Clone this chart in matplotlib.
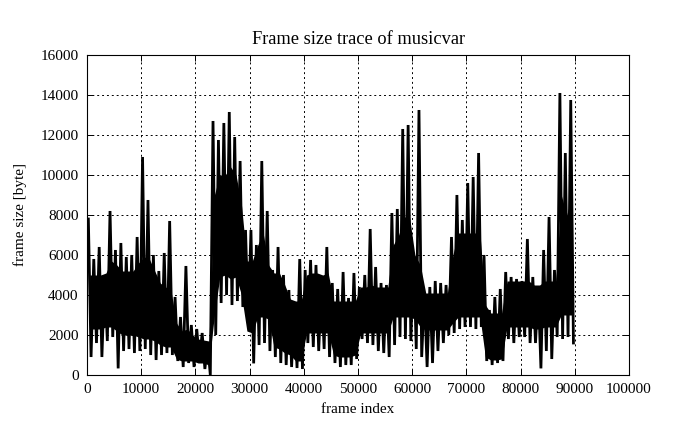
import numpy as np
import matplotlib
matplotlib.use('Agg')
from matplotlib import pyplot as plt

plt.rc('font', family='Liberation Serif', size=11)

# frame size values, one entry per 1000 frames
bin_width = 1000
# spike peaks and troughs
frame_hi = [7800, 5800, 6400, 4900, 8200, 6250, 6600, 5900, 6000, 6900,
            10900, 8750, 6000, 5200, 6100, 7700, 3900, 2900, 5450, 2500,
            2300, 2100, 1600, 12700, 11750, 12600, 13150, 11900, 10700, 7250,
            7250, 6500, 10700, 8200, 5250, 6400, 5000, 4250, 3600, 5800,
            5250, 5750, 5500, 4600, 6400, 4600, 4300, 5150, 3850, 5100,
            4400, 5000, 7300, 5400, 4600, 4500, 8100, 8300, 12300, 12500,
            6100, 13250, 4100, 4400, 4700, 4600, 4500, 6900, 9000, 7750,
            9600, 9900, 11100, 6000, 3250, 3900, 4300, 5150, 4900, 4800,
            4700, 6800, 4900, 4400, 6250, 7900, 5250, 14100, 11100, 13750]
frame_lo = [900, 1600, 900, 1700, 1900, 330, 1200, 1300, 1100, 1200,
            1300, 1000, 750, 1000, 1100, 1000, 700, 400, 600, 400,
            700, 300, 0, 2000, 3600, 4000, 3500, 3700, 3400, 2600,
            580, 1500, 1600, 1200, 900, 600, 500, 400, 350, 300,
            1600, 1400, 1200, 1300, 900, 600, 400, 500, 500, 800,
            1800, 1600, 1500, 1200, 1100, 900, 1500, 1900, 1800, 1700,
            1300, 900, 400, 600, 1200, 1600, 2000, 2100, 2300, 2400,
            2400, 2300, 2400, 700, 500, 600, 700, 1800, 1600, 1900,
            1900, 1600, 1600, 330, 1200, 800, 1900, 1800, 1900, 1600]
# solid (densely overplotted) part of the trace
core_top = [5000, 5000, 5000, 5100, 5700, 5500, 5200, 5200, 5200, 5600,
            5900, 5800, 5200, 4600, 4400, 4200, 2600, 2200, 2300, 2000,
            1800, 1750, 1700, 9000, 10000, 10000, 10400, 10000, 8500, 5700,
            5700, 6500, 7100, 5500, 5100, 5100, 4500, 3800, 3700, 3700,
            5000, 5100, 5100, 5000, 5100, 3700, 3700, 3700, 3700, 3700,
            4400, 4400, 4500, 4400, 4400, 4400, 6500, 7000, 7900, 7900,
            6000, 5500, 4100, 4100, 4100, 4100, 4100, 6000, 7100, 7100,
            7100, 7100, 7100, 3500, 3100, 3100, 3100, 4700, 4700, 4700,
            4700, 4700, 4500, 4500, 4700, 4700, 4700, 9000, 8000, 9000]
core_bot = [2300, 2300, 2300, 2400, 2400, 2200, 2000, 2000, 2000, 1900,
            1800, 1800, 1700, 1500, 1400, 1400, 800, 700, 700, 700,
            600, 600, 500, 3000, 4900, 5000, 4800, 4900, 4000, 2200,
            2100, 2900, 2900, 2800, 1400, 1300, 1100, 1000, 700, 700,
            2100, 2100, 2100, 2100, 2100, 1000, 900, 900, 900, 1000,
            2100, 2100, 2100, 2100, 2100, 2100, 2900, 2900, 2900, 2900,
            2800, 2400, 2250, 2250, 2250, 2250, 2250, 2600, 2900, 2900,
            2900, 2900, 2900, 900, 750, 750, 800, 2400, 2400, 2400,
            2400, 2400, 2300, 2300, 2400, 2400, 2400, 3000, 3000, 3000]

centres = [i * bin_width + bin_width / 2 for i in range(len(core_top))]

# interleave peaks and troughs for the spiky outline
idx = []
size = []
for i, (h, l) in enumerate(zip(frame_hi, frame_lo)):
    idx += [i * bin_width + 250, i * bin_width + 750]
    size += [h, l]

fig = plt.figure(figsize=(6.99, 4.29), dpi=100)
ax = fig.add_axes([87/699, 1-375/429, (629-87)/699, (375-55)/429])

ax.fill_between(centres, core_bot, core_top, color='black', linewidth=0, zorder=2)
ax.plot(idx, size, color='black', linewidth=2.0, solid_joinstyle='miter', zorder=3)

ax.set_xlim(0, 100000)
ax.set_ylim(0, 16000)
ax.set_xticks(np.arange(0, 100001, 10000))
ax.set_yticks(np.arange(0, 16001, 2000))
ax.grid(True, color='black', linestyle=(0, (2, 3)), linewidth=0.7, zorder=1)
ax.set_axisbelow(True)
ax.tick_params(direction='in', top=True, right=True, length=4, width=0.7, pad=6)
for s in ax.spines.values():
    s.set_linewidth(0.8)

ax.set_title('Frame size trace of musicvar', pad=8)
ax.set_xlabel('frame index', labelpad=5)
ax.set_ylabel('frame size [byte]', labelpad=10)

plt.savefig('out.png', dpi=100)
